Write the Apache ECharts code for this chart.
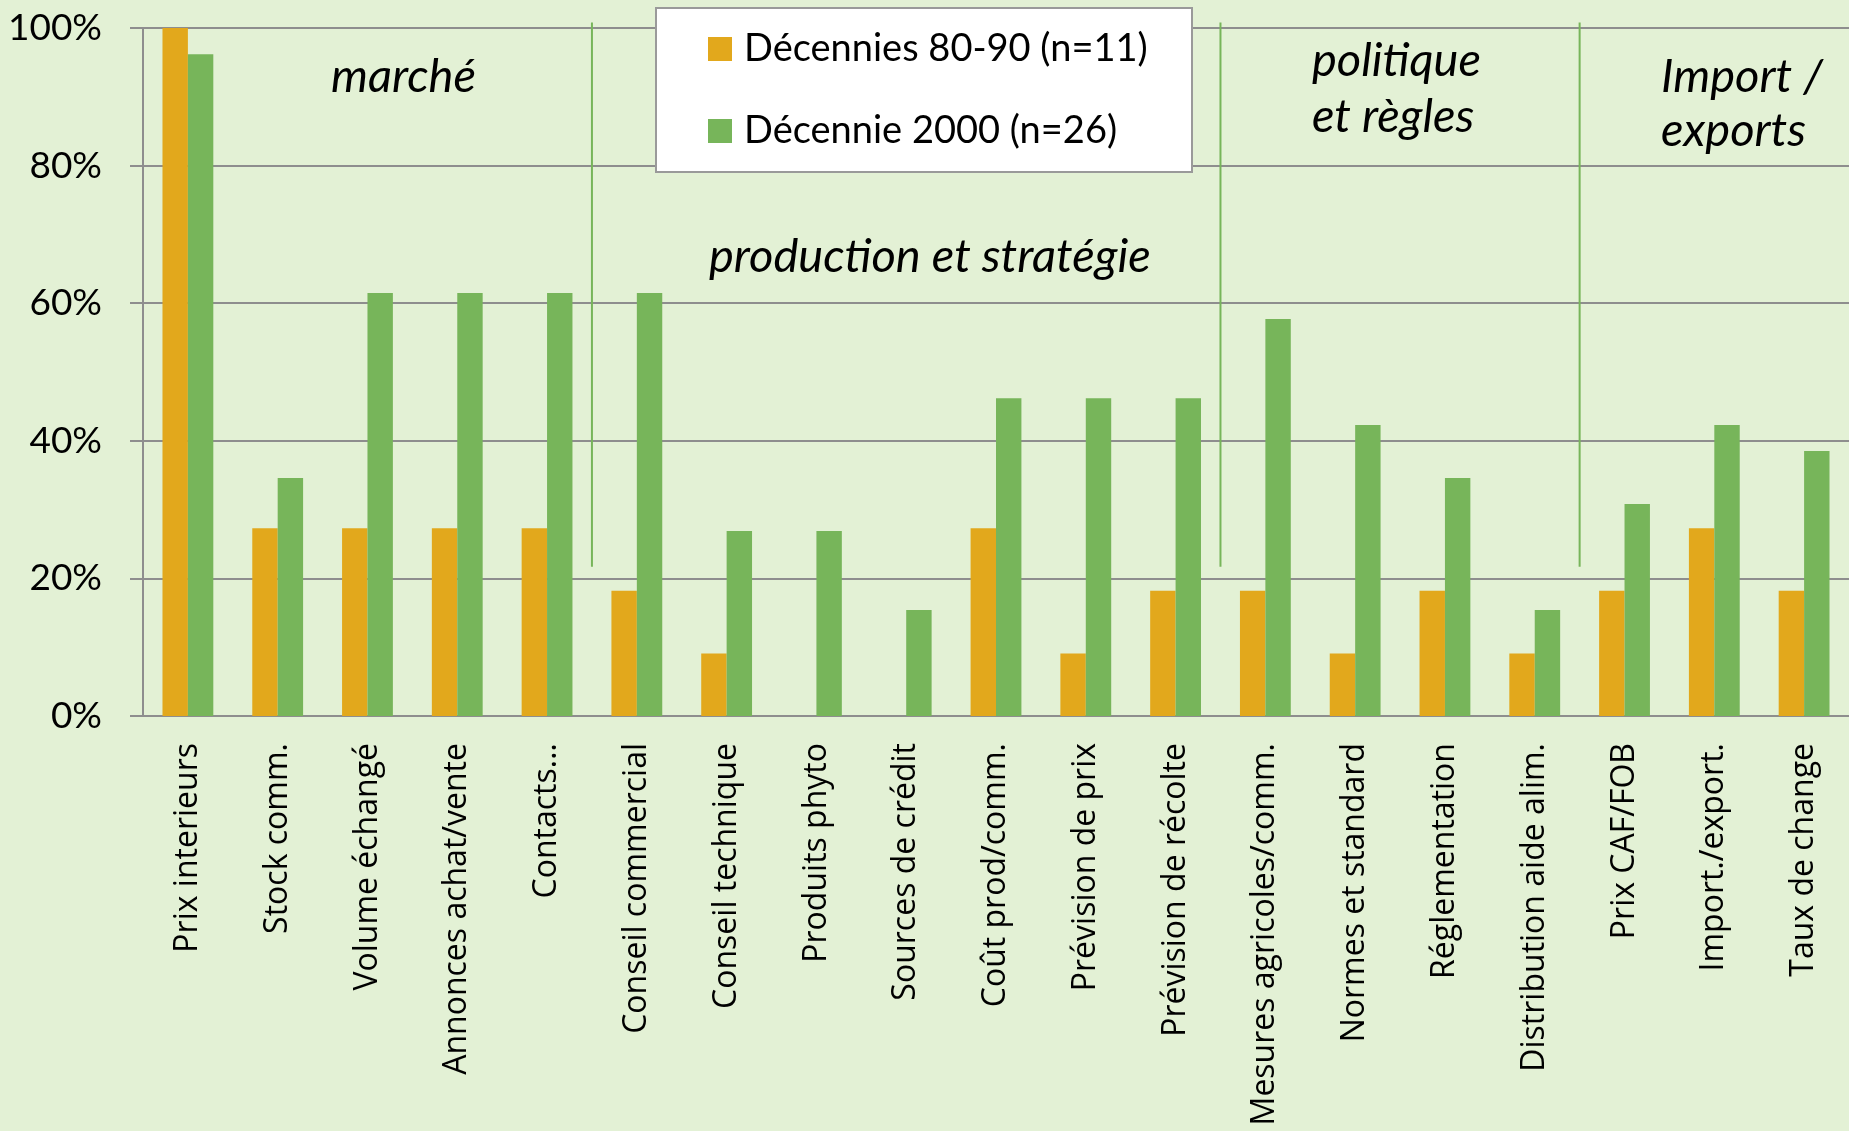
<!DOCTYPE html>
<html>
<head>
<meta charset="utf-8">
<script src="https://cdn.jsdelivr.net/npm/echarts@6/dist/echarts.min.js"></script>
<style>
html,body{margin:0;padding:0;background:#E3F1D5;}
#chart{width:1849px;height:1131px;}
</style>
</head>
<body>
<div id="chart"></div>
<script>
var categories = ['Prix interieurs','Stock comm.','Volume échangé','Annonces achat/vente','Contacts...','Conseil commercial','Conseil technique','Produits phyto','Sources de crédit','Coût prod/comm.','Prévision de prix','Prévision de récolte','Mesures agricoles/comm.','Normes et standard','Réglementation','Distribution aide alim.','Prix CAF/FOB','Import./export.','Taux de change'];
var seriesNames = ['Décennies 80-90 (n=11)','Décennie 2000 (n=26)'];
var decennies8090 = [100, 27.3, 27.3, 27.3, 27.3, 18.2, 9.1, 0, 0, 27.3, 9.1, 18.2, 18.2, 9.1, 18.2, 9.1, 18.2, 27.3, 18.2];
var decennie2000 = [96.2, 34.6, 61.5, 61.5, 61.5, 61.5, 26.9, 26.9, 15.4, 46.2, 46.2, 46.2, 57.7, 42.3, 34.6, 15.4, 30.8, 42.3, 38.5];
var yTicks = [0, 20, 40, 60, 80, 100];
var groupBoundaries = [5, 12, 16];
var separatorRange = [21.7, 100.8];
var groupLabels = ['marché','production et stratégie','politique','et règles','Import /','exports'];

var chart = echarts.init(document.getElementById('chart'), null, {renderer:'canvas'});
var gray = '#8e8e8e';
var orange = '#E2A81C';
var green = '#77B55A';

var sepSeries = groupBoundaries.map(function(b){
  return {
    type:'line', xAxisIndex:1, yAxisIndex:0, silent:true, clip:false,
    symbol:'none', data:[[b, separatorRange[0]],[b, separatorRange[1]]],
    lineStyle:{color:green, width:2}, z:1
  };
});

var groupPos = [[331,77],[709,257],[1312,61],[1312,117],[1661,77],[1661,131]];
var graphics = [{
  type:'rect', z:3, shape:{x:656,y:8,width:536,height:164},
  style:{fill:'#ffffff', stroke:'#9a9a9a', lineWidth:2}
}];
groupLabels.forEach(function(t,i){
  graphics.push({type:'text', z:6, x:groupPos[i][0], y:groupPos[i][1],
    style:{text:t, font:'italic 47px Lato', fill:'#000', textAlign:'left', textVerticalAlign:'middle'}});
});

chart.setOption({
  backgroundColor:'#E3F1D5',
  animation:false,
  grid:{left:143, right:0, top:28, bottom:415, containLabel:false},
  legend:{
    data:seriesNames, orient:'vertical', left:708, top:29, z:6,
    itemWidth:24, itemHeight:24, itemGap:42, icon:'rect', padding:0,
    textStyle:{fontFamily:'Lato', fontSize:38, color:'#000', lineHeight:40, padding:[0,0,0,7]}
  },
  xAxis:[{
    type:'category', data:categories,
    axisLine:{show:true, lineStyle:{color:gray, width:2}},
    axisTick:{show:false},
    axisLabel:{rotate:90, interval:0, margin:27, color:'#000', fontFamily:'"Open Sans"', fontSize:32},
    splitLine:{show:false}
  },{
    type:'value', min:0, max:categories.length, show:false
  }],
  yAxis:{
    type:'value', min:yTicks[0], max:yTicks[yTicks.length-1], interval:20,
    axisLine:{show:true, lineStyle:{color:gray, width:2}},
    axisTick:{show:true, length:13, lineStyle:{color:gray, width:2}},
    axisLabel:{formatter:'{value}%', margin:41, color:'#000', fontFamily:'Lato', fontSize:37},
    splitLine:{show:true, lineStyle:{color:gray, width:2}}
  },
  graphic:graphics,
  series:[{
    name:seriesNames[0], type:'bar', data:decennies8090, barGap:'0%', barCategoryGap:'43.4%',
    itemStyle:{color:orange}, z:2
  },{
    name:seriesNames[1], type:'bar', data:decennie2000, barGap:'0%', barCategoryGap:'43.4%',
    itemStyle:{color:green}, z:2
  }].concat(sepSeries)
});
</script>
</body>
</html>
